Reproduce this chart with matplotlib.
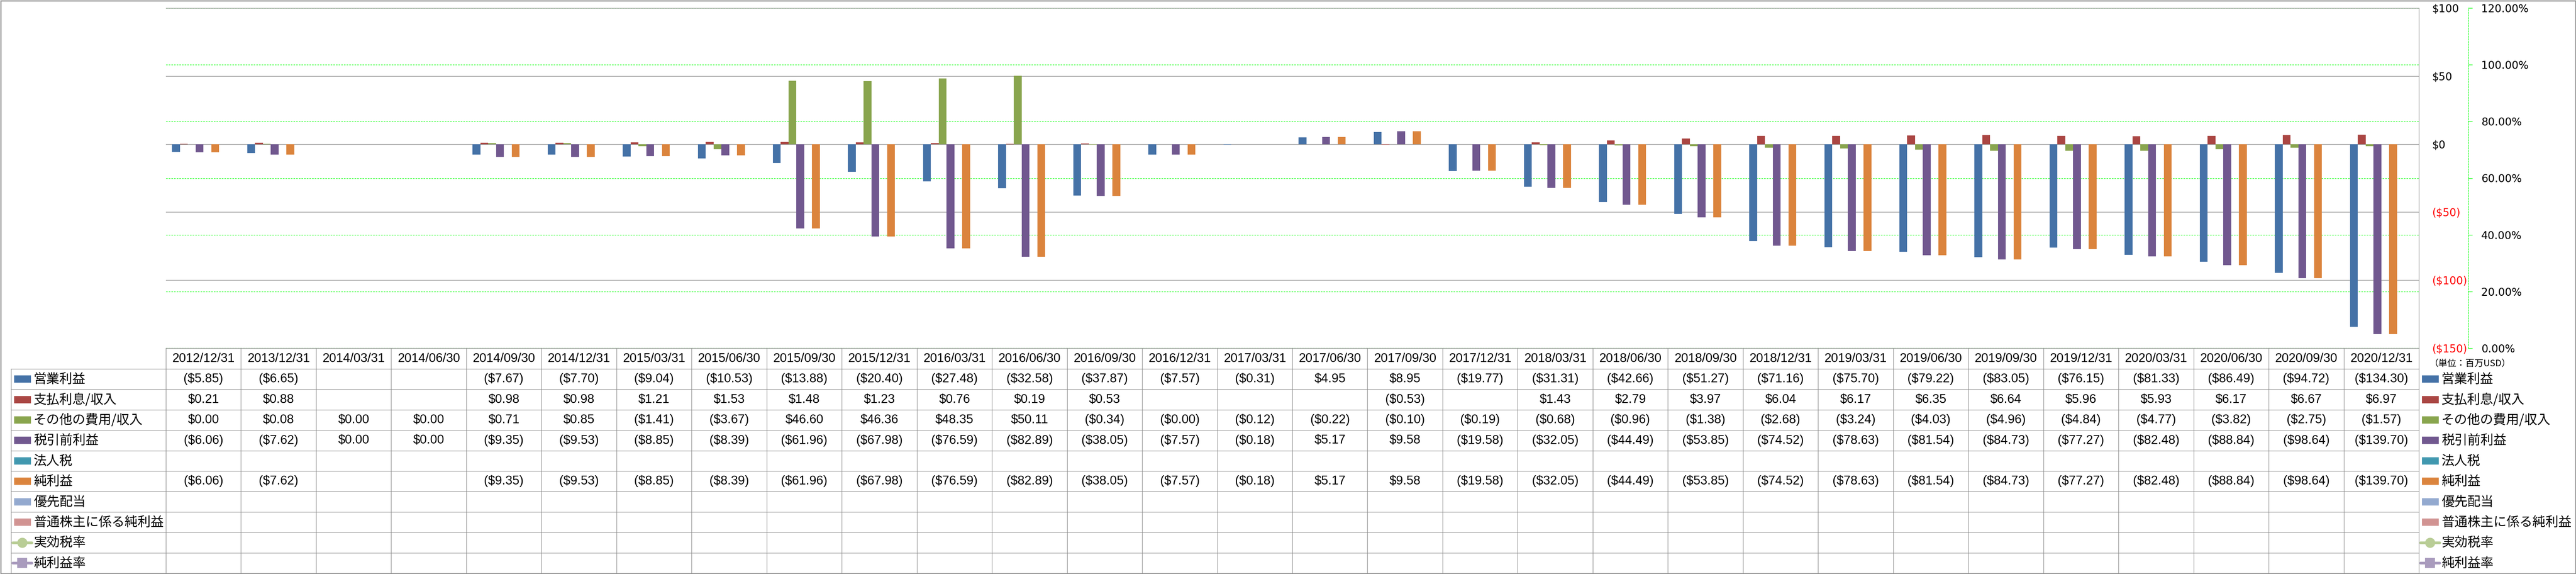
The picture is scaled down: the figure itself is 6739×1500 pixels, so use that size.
import math
import numpy as np
import matplotlib
matplotlib.use("Agg")
import matplotlib.pyplot as plt
from matplotlib.lines import Line2D
from matplotlib.patches import Rectangle

# ---------------- data ----------------
dates = ["2012/12/31", "2013/12/31", "2014/03/31", "2014/06/30", "2014/09/30", "2014/12/31",
         "2015/03/31", "2015/06/30", "2015/09/30", "2015/12/31", "2016/03/31", "2016/06/30",
         "2016/09/30", "2016/12/31", "2017/03/31", "2017/06/30", "2017/09/30", "2017/12/31",
         "2018/03/31", "2018/06/30", "2018/09/30", "2018/12/31", "2019/03/31", "2019/06/30",
         "2019/09/30", "2019/12/31", "2020/03/31", "2020/06/30", "2020/09/30", "2020/12/31"]
N = None
operating_income = [-5.85, -6.65, N, N, -7.67, -7.70, -9.04, -10.53, -13.88, -20.40, -27.48, -32.58,
                    -37.87, -7.57, -0.31, 4.95, 8.95, -19.77, -31.31, -42.66, -51.27, -71.16, -75.70,
                    -79.22, -83.05, -76.15, -81.33, -86.49, -94.72, -134.30]
interest = [0.21, 0.88, N, N, 0.98, 0.98, 1.21, 1.53, 1.48, 1.23, 0.76, 0.19,
            0.53, N, N, N, -0.53, N, 1.43, 2.79, 3.97, 6.04, 6.17,
            6.35, 6.64, 5.96, 5.93, 6.17, 6.67, 6.97]
other = [0.00, 0.08, 0.00, 0.00, 0.71, 0.85, -1.41, -3.67, 46.60, 46.36, 48.35, 50.11,
         -0.34, -0.001, -0.12, -0.22, -0.10, -0.19, -0.68, -0.96, -1.38, -2.68, -3.24,
         -4.03, -4.96, -4.84, -4.77, -3.82, -2.75, -1.57]
pretax = [-6.06, -7.62, 0.00, 0.00, -9.35, -9.53, -8.85, -8.39, -61.96, -67.98, -76.59, -82.89,
          -38.05, -7.57, -0.18, 5.17, 9.58, -19.58, -32.05, -44.49, -53.85, -74.52, -78.63,
          -81.54, -84.73, -77.27, -82.48, -88.84, -98.64, -139.70]
income_tax = [N] * 30
net_income = [-6.06, -7.62, N, N, -9.35, -9.53, -8.85, -8.39, -61.96, -67.98, -76.59, -82.89,
              -38.05, -7.57, -0.18, 5.17, 9.58, -19.58, -32.05, -44.49, -53.85, -74.52, -78.63,
              -81.54, -84.73, -77.27, -82.48, -88.84, -98.64, -139.70]
preferred_div = [N] * 30
net_income_common = [N] * 30
effective_tax_rate = [N] * 30
net_margin = [N] * 30

bar_names = ["営業利益", "支払利息/収入", "その他の費用/収入", "税引前利益", "法人税", "純利益",
             "優先配当", "普通株主に係る純利益"]
bar_values = [operating_income, interest, other, pretax, income_tax, net_income,
              preferred_div, net_income_common]
bar_colors = ["#4572A7", "#AA4643", "#89A54E", "#71588F", "#4198AF", "#DB843D",
              "#93A9CF", "#D19392"]
line_names = ["実効税率", "純利益率"]
line_values = [effective_tax_rate, net_margin]
line_colors = ["#B9CD96", "#A99BBD"]
line_markers = ["o", "s"]

left_ticks = [-150, -100, -50, 0, 50, 100]
right_ticks = [0.0, 0.2, 0.4, 0.6, 0.8, 1.0, 1.2]
unit_label = "（単位：百万USD）"

# ---------------- layout (pixels) ----------------
W, H = 6739, 1500
PL, PR, PT, PB = 434, 6328, 21, 910
TABLE_BOT = 1498
LABEL_LEFT = 29
HEADER_BOT = 964
nrows = len(bar_names) + len(line_names)
ROW_H = (TABLE_BOT - HEADER_BOT) / nrows
ncol = len(dates)
COLW = (PR - PL) / ncol
GRAY = "#8C8C8C"
LIME = "#00FF00"
JP = ["Noto Sans CJK JP", "DejaVu Sans"]
NUMF = ["Liberation Sans", "Noto Sans CJK JP"]

def fmt_money(v):
    if v is None:
        return ""
    if v < 0 or math.copysign(1, v) < 0:
        return "(${:.2f})".format(abs(v))
    return "${:.2f}".format(v)

fig = plt.figure(figsize=(W / 100, H / 100), dpi=100, facecolor="white")

# overlay for table
ov = fig.add_axes([0, 0, 1, 1])
ov.set_xlim(0, W)
ov.set_ylim(H, 0)
ov.axis("off")
ov.set_zorder(0)

ax = fig.add_axes([PL / W, 1 - PB / H, (PR - PL) / W, (PB - PT) / H])
ax2 = ax.twinx()
ax2.set_zorder(1)
ax.set_zorder(2)
ax.patch.set_visible(False)
ax2.patch.set_visible(False)

x = np.arange(ncol)
nb = len(bar_names)
bw = 20.5 / COLW
for i, (vals, c) in enumerate(zip(bar_values, bar_colors)):
    h = np.array([np.nan if v is None else v for v in vals], dtype=float)
    ax.bar(x + (i - (nb - 1) / 2) * bw, h, width=bw, color=c, linewidth=0, zorder=3)
for vals, c, m in zip(line_values, line_colors, line_markers):
    yv = np.array([np.nan if v is None else v for v in vals], dtype=float)
    ax2.plot(x, yv, color=c, marker=m, lw=5)

ax.set_xlim(-0.5, ncol - 0.5)
ax.set_ylim(-150, 100)
ax2.set_ylim(0, 1.2)
ax.set_xticks([])
ax2.set_xticks([])

# primary axis (right side labels)
ax.yaxis.tick_right()
ax.set_yticks(left_ticks)
ax.set_yticklabels(["${:.0f}".format(t) if t >= 0 else "(${:.0f})".format(-t) for t in left_ticks])
ax.tick_params(axis="y", length=0, pad=25, labelsize=20)
for lbl, t in zip(ax.get_yticklabels(), left_ticks):
    lbl.set_color("red" if t < 0 else "black")
    lbl.set_fontfamily("DejaVu Sans")
ax.set_axisbelow(True)
ax.grid(axis="y", color=GRAY, linewidth=1.0)
for s in ["left", "top", "bottom"]:
    ax.spines[s].set_visible(False)
ax.spines["right"].set_color(GRAY)
ax.spines["right"].set_linewidth(1.0)

# secondary axis
ax2.yaxis.tick_right()
ax2.set_yticks(right_ticks)
ax2.set_yticklabels(["{:.2f}%".format(t * 100) for t in right_ticks])
ax2.spines["right"].set_position(("outward", 129 * 0.72))
ax2.spines["right"].set_color(LIME)
ax2.spines["right"].set_linestyle((0, (3, 2)))
ax2.spines["right"].set_linewidth(1.0)
for s in ["left", "top", "bottom"]:
    ax2.spines[s].set_visible(False)
ax2.tick_params(axis="y", which="both", direction="out", length=8, width=1, color=LIME,
                pad=16.5, labelsize=20, labelcolor="black")
for lbl in ax2.get_yticklabels():
    lbl.set_fontfamily("DejaVu Sans")
    lbl.set_fontsize(20)
ax2.grid(axis="y", color=LIME, linestyle=(0, (3, 2)), linewidth=1.0)

ov.text(6356, 950, unit_label, family=JP, fontsize=17, ha="left", va="center")

# ---------------- table ----------------
lw = 1.0
ov.plot([PL, PR], [PB, PB], color=GRAY, lw=lw)
for r in range(nrows + 1):
    y = HEADER_BOT + r * ROW_H
    ov.plot([LABEL_LEFT, PR], [y, y], color=GRAY, lw=lw)
for j in range(ncol + 1):
    xx = PL + j * COLW
    ov.plot([xx, xx], [PB, TABLE_BOT], color=GRAY, lw=lw)
ov.plot([LABEL_LEFT, LABEL_LEFT], [HEADER_BOT, TABLE_BOT], color=GRAY, lw=lw)

for j, d in enumerate(dates):
    ov.text(PL + (j + 0.5) * COLW, (PB + HEADER_BOT) / 2, d, family=NUMF, fontsize=23.5,
            ha="center", va="center")

all_names = bar_names + line_names
all_vals = bar_values + line_values
for r, (name, vals) in enumerate(zip(all_names, all_vals)):
    yc = HEADER_BOT + (r + 0.5) * ROW_H
    for j, v in enumerate(vals):
        s = fmt_money(v)
        if s:
            ov.text(PL + (j + 0.5) * COLW, yc, s, family=NUMF, fontsize=23.5,
                    ha="center", va="center")
    # key in row label and in right legend
    for kx, tx in [(37, 88), (6336, 6387)]:
        if r < nb:
            ov.add_patch(Rectangle((kx, yc - 9.5), 44, 19, color=bar_colors[r], lw=0))
        else:
            k = r - nb
            ov.add_line(Line2D([kx - 4, kx + 46], [yc, yc], color=line_colors[k], lw=5,
                               solid_capstyle="round"))
            ov.add_line(Line2D([kx + 21], [yc], marker=line_markers[k], markersize=19,
                               color=line_colors[k], markeredgewidth=0))
        ov.text(tx, yc + 1, name, family=JP, fontsize=24.5, ha="left", va="center")

# outer border
ov.add_patch(Rectangle((1.5, 1.5), W - 3, H - 3, fill=False, edgecolor=GRAY, lw=2))

fig.savefig("out.png", dpi=100, facecolor="white")
